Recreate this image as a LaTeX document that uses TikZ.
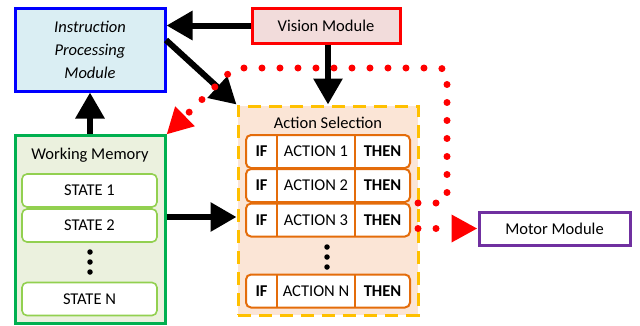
\documentclass[tikz,border=0pt]{standalone}
\usepackage{fontspec}
\setmainfont{Carlito}
\usetikzlibrary{arrows.meta}
\definecolor{ipmfill}{HTML}{DAEEF3}
\definecolor{visfill}{HTML}{F2DCDB}
\definecolor{wmfill}{HTML}{EBF1DE}
\definecolor{wmdraw}{HTML}{00B050}
\definecolor{stdraw}{HTML}{92D050}
\definecolor{asfill}{HTML}{FBE5D6}
\definecolor{asdraw}{HTML}{FFC000}
\definecolor{rowdraw}{HTML}{E46C0A}
\definecolor{motdraw}{HTML}{7030A0}
\definecolor{ipmdraw}{HTML}{0000FF}
\definecolor{visdraw}{HTML}{FF0000}
\tikzset{
  box/.style={draw, line width=3pt, inner sep=0pt, align=center},
  statebox/.style={draw=stdraw, line width=1.6pt, fill=white, rounded corners=5pt, minimum width=135pt, minimum height=33pt, inner sep=0pt},
  rowbox/.style={draw=rowdraw, line width=2pt, fill=white, rounded corners=5pt, minimum width=164pt, minimum height=33pt, inner sep=0pt},
  bigarrow/.style={line width=6pt, -{Triangle[length=26pt,width=28pt]}},
  reddot/.style={draw=red, line width=7pt, line cap=round, dash pattern=on 0pt off 18pt, dash phase=11pt, -{Triangle[length=26pt,width=26pt]}},
  dotc/.style={circle, fill=black, inner sep=0pt, minimum size=5.5pt}
}
\begin{document}
\begin{tikzpicture}[x=1pt,y=-1pt, font=\fontsize{16.5}{23}\selectfont]
\useasboundingbox (0,0) rectangle (640,325);
% modules
\node[box, draw=ipmdraw, fill=ipmfill, minimum width=150pt, minimum height=83pt, font=\fontsize{16.5}{23}\selectfont\itshape] (ipm) at (90,49.5) {Instruction\\Processing\\Module};
\node[box, draw=visdraw, fill=visfill, minimum width=148pt, minimum height=35pt] (vis) at (326,25.5) {Vision Module};
\node[box, draw=motdraw, fill=white, minimum width=151pt, minimum height=33pt] (mot) at (554.5,228.5) {Motor Module};
% working memory
\node[box, draw=wmdraw, fill=wmfill, minimum width=150pt, minimum height=188pt] (wm) at (90,229) {};
\node (wmt) at (90,155) {Working Memory};
\node[statebox] (s1) at (89.5,190.5) {STATE 1};
\node[statebox] (s2) at (89.5,225.5) {STATE 2};
\node[statebox] (sn) at (89.5,299) {STATE N};
\node[dotc] (wd1) at (90,252) {};
\node[dotc] (wd2) at (90,262) {};
\node[dotc] (wd3) at (90,272) {};
% action selection
\node[draw=asdraw, fill=asfill, line width=3pt, dash pattern=on 13pt off 8pt, minimum width=180pt, minimum height=209pt, inner sep=0pt] (as) at (328,210.5) {};
\node (ast) at (328,123) {Action Selection};
\foreach \n/\y/\t in {r1/151.5/1, r2/185.5/2, r3/220/3, rn/291/N}{
  \node[rowbox] (\n) at (328,\y) {};
  \draw[rowdraw, line width=1.5pt] (277,\y-16.5) -- (277,\y+16.5) (355,\y-16.5) -- (355,\y+16.5);
  \node[font=\fontsize{16.5}{23}\selectfont\bfseries] (\n if) at (261.5,\y) {IF};
  \node (\n act) at (316,\y) {ACTION \t};
  \node[font=\fontsize{16.5}{23}\selectfont\bfseries] (\n then) at (382.5,\y) {THEN};
}
\node[dotc] (ad1) at (327,247) {};
\node[dotc] (ad2) at (327,257) {};
\node[dotc] (ad3) at (327,267) {};
% black arrows
\draw[bigarrow] (vis.west) -- (vis.west -| ipm.east);
\draw[bigarrow] (vis.south -| 328,0) -- (as.north -| 328,0);
\coordinate (ipmout) at (166,40);
\draw[bigarrow] (ipmout) -- (as.north west);
\draw[bigarrow] (wm.east |- 0,217) -- (as.west |- 0,217);
\draw[bigarrow] (wm.north) -- (ipm.south);
% red dotted connectors
\coordinate (o1) at ([yshift=17pt]r3.east);
\coordinate (o2) at ([yshift=-8.5pt]r3.east);
\draw[reddot, rounded corners=8pt] (o1) -- (447,203) -- (447,68) -- (234,68) -- ([yshift=-1pt]wm.north east);
\draw[reddot] (o2) -- (mot.west);
\end{tikzpicture}
\end{document}
